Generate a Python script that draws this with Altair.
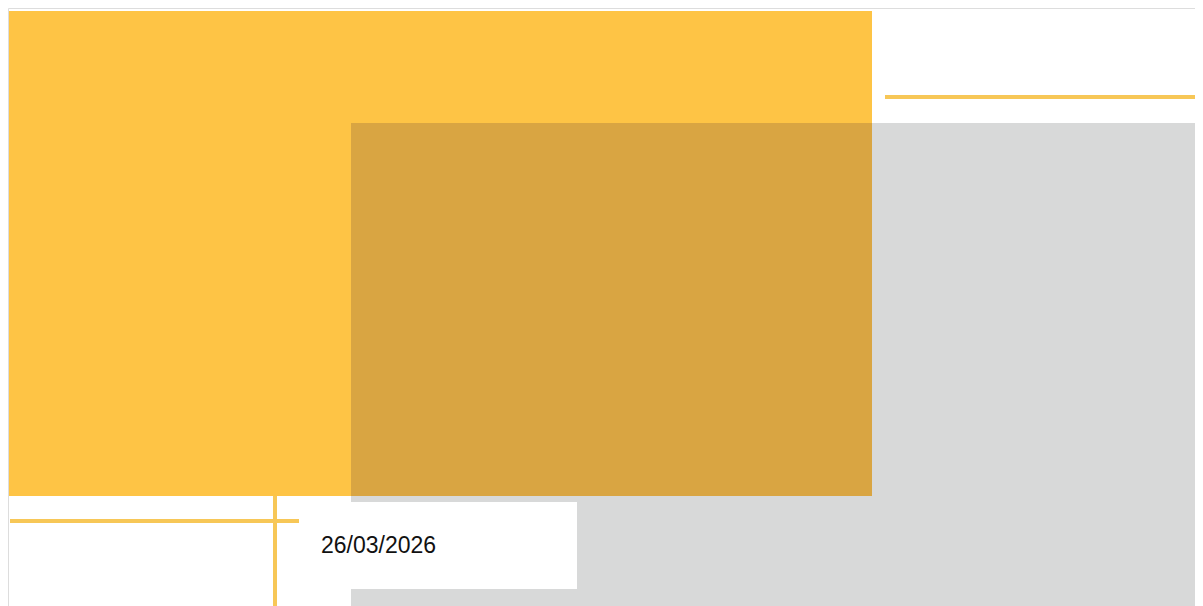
import altair as alt
import pandas as pd

# Shape extents in page coordinates (pixels of the reference image)
block_names = ["yellow", "gray", "overlap", "white"]
block_x1 = [9, 351, 351, 351]
block_x2 = [872, 1203, 872, 577]
block_y1 = [11, 123, 123, 502]
block_y2 = [496, 606, 496, 589]

line_names = ["top_right", "bottom_left_h", "bottom_left_v"]
line_x1 = [885, 10, 275]
line_x2 = [1203, 299, 275]
line_y1 = [97, 521, 496]
line_y2 = [97, 521, 606]

label_text = ["26/03/2026"]
label_x = [321]
label_y = [553]

colors = {"yellow": "#FEC445", "gray": "#D8D9D9", "overlap": "#D9A542", "white": "#FFFFFF"}
line_color = "#F7C757"

W, H = 1187, 598
xs = alt.Scale(domain=[8, 8 + W], range=[0, W], nice=False, zero=False)
ys = alt.Scale(domain=[8, 8 + H], range=[0, H], nice=False, zero=False)

blocks = pd.DataFrame({"name": block_names, "x": block_x1, "x2": block_x2,
                       "y": block_y1, "y2": block_y2})
lines = pd.DataFrame({"name": line_names, "x": line_x1, "x2": line_x2,
                      "y": line_y1, "y2": line_y2})
labels = pd.DataFrame({"text": label_text, "x": label_x, "y": label_y})

layers = []
for nm in ["gray", "yellow", "overlap", "white"]:
    layers.append(
        alt.Chart(blocks[blocks["name"] == nm]).mark_rect(color=colors[nm], strokeWidth=0).encode(
            x=alt.X("x:Q", scale=xs, axis=None),
            x2="x2:Q",
            y=alt.Y("y:Q", scale=ys, axis=None),
            y2="y2:Q",
        )
    )

rules = alt.Chart(lines).mark_rule(color=line_color, strokeWidth=4).encode(
    x=alt.X("x:Q", scale=xs, axis=None),
    x2="x2:Q",
    y=alt.Y("y:Q", scale=ys, axis=None),
    y2="y2:Q",
)

text = alt.Chart(labels).mark_text(
    align="left", baseline="alphabetic", font="Liberation Sans", fontSize=23, color="#111111"
).encode(
    x=alt.X("x:Q", scale=xs, axis=None),
    y=alt.Y("y:Q", scale=ys, axis=None),
    text="text:N",
)

chart = alt.layer(*layers, rules, text).properties(
    width=W, height=H, padding=0, autosize=alt.AutoSizeParams(type="none")
).configure_view(strokeWidth=0, stroke="transparent").configure(background="#FFFFFF")

chart.save("out.html", embed_options={"renderer": "svg", "actions": False})
